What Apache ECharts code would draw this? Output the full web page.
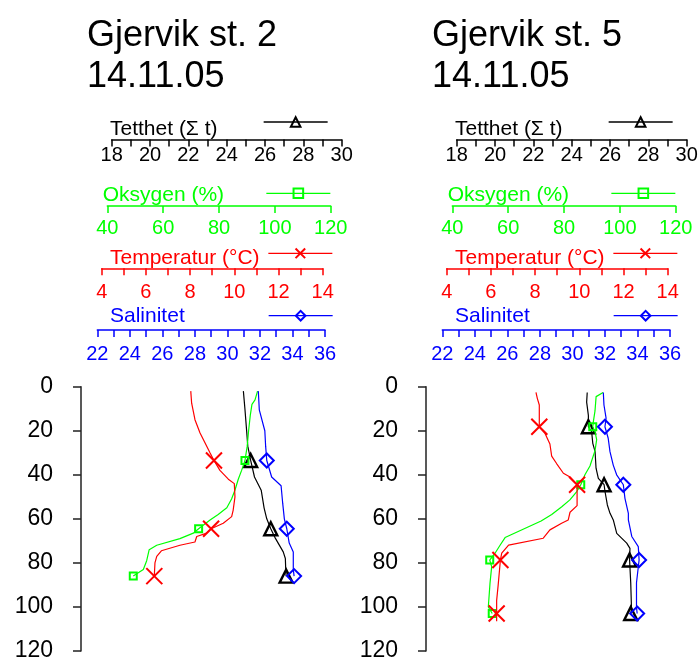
<!DOCTYPE html>
<html>
<head>
<meta charset="utf-8">
<script src="https://cdn.jsdelivr.net/npm/echarts@6/dist/echarts.min.js"></script>
<style>
  html, body { margin: 0; padding: 0; background: #fff; }
  #chart { width: 699px; height: 661px; }
</style>
</head>
<body>
<div id="chart"></div>
<script>
// Hydrographic profiles, Gjervik stations 2 and 5 (14.11.05)
const stationNames = ['Gjervik st. 2', 'Gjervik st. 5'];
const sampleDate = '14.11.05';
const depthTicks = [0, 20, 40, 60, 80, 100, 120];

// Profiles as [depth (m), value]
const st2Tetthet = [[2,24.87],[10,24.95],[20,25.04],[27,25.1],[33.5,25.25],[41,25.45],[47,25.8],[55,25.95],[60,26.09],[64.5,26.3],[69,26.55],[75,26.95],[78,27.06],[83,27.08],[86,27.1]];
const st2Oksygen = [[2,93.8],[6,92.9],[8,91.8],[13,91.2],[20,90.6],[27,90.1],[33.5,89.3],[38,88.1],[42,86.9],[47,85.7],[51,84.5],[55,82.8],[58,79.7],[60.5,76.8],[64.5,72.7],[66.5,70.8],[69,66],[72,57.7],[74,55],[79,54.1],[83,52.9],[86,49.3]];
const st2Temperatur = [[2,8.03],[7.5,8.07],[15,8.22],[21,8.45],[25,8.65],[30,8.9],[33.5,9.08],[38,9.35],[42,9.73],[44,10.0],[50,10.03],[56,9.95],[59,9.88],[62,9.5],[64.5,8.95],[66.5,8.75],[68,8.3],[70.5,8.22],[72,7.54],[74.5,6.7],[77,6.49],[80,6.41],[86,6.38]];
const st2Salinitet = [[2,31.9],[10.5,31.96],[20,32.3],[27,32.35],[33.5,32.42],[41,32.72],[45,33.3],[53,33.4],[60,33.5],[64.5,33.65],[71,33.8],[75,34.05],[83,34.05],[86,34.1]];
const st2SampleDepths = [33.5, 64.5, 86];

const st5Tetthet = [[2.6,24.81],[7,24.78],[13,24.87],[18.2,24.87],[20.4,25.04],[25.7,25.1],[29.5,25.22],[37,25.27],[41.6,25.39],[44.5,25.69],[47.7,25.74],[53.7,25.86],[57.5,26.0],[60.5,26.17],[66.6,26.35],[71,26.87],[73.4,27.04],[78.7,27.02],[89,27.08],[101,27.12],[103,27.08]];
const st5Oksygen = [[2.6,94],[4.5,91.5],[11,91.1],[16,90.5],[18.2,90.3],[20.4,91.1],[24,91.7],[29,91.1],[36,89.3],[40,87.5],[44.5,86],[47.7,84.5],[51.4,82.1],[54.5,79.2],[58,75.6],[61,71.8],[68.5,58.9],[72,57.1],[75.6,55.3],[78.7,53.4],[81.7,54.1],[89.3,53.5],[100,52.9],[103,54.3]];
const st5Temperatur = [[2.6,8.04],[5.3,8.1],[8.3,8.19],[14,8.19],[18.2,8.19],[21.2,8.45],[26,8.67],[31.5,8.75],[35,8.98],[39.3,9.28],[41,9.58],[44.5,9.9],[49,9.9],[54,9.9],[57,9.58],[60.5,9.5],[62,9.2],[65,8.67],[68.8,8.37],[71.9,6.8],[75.6,6.49],[78.7,6.43],[90,6.33],[97,6.26],[103,6.26],[106.5,6.26]];
const st5Salinitet = [[2.6,31.9],[8.3,31.94],[14.3,32.07],[18.2,32.0],[23.4,32.2],[29.5,32.31],[35.6,32.51],[40,32.72],[44.5,33.13],[50.7,33.23],[57.5,33.44],[60.5,33.44],[68,33.65],[72.6,34.05],[78.7,34.1],[89,33.94],[100,33.94],[103,33.98]];
const st5SampleDepths = [18.2, 44.5, 78.7, 103];

// Parameter scales
const paramKeys = ['Tetthet', 'Oksygen', 'Temperatur', 'Salinitet'];
const paramTitles = ['Tetthet (Σ t)', 'Oksygen (%)', 'Temperatur (°C)', 'Salinitet'];
const paramMin = [18, 40, 4, 22];
const paramMax = [30, 120, 14, 36];
const paramStep = [1, 20, 1, 1];
const paramLabelEvery = [2, 20, 2, 2];

const stations = [
  { profiles: [st2Tetthet, st2Oksygen, st2Temperatur, st2Salinitet], samples: st2SampleDepths },
  { profiles: [st5Tetthet, st5Oksygen, st5Temperatur, st5Salinitet], samples: st5SampleDepths }
];

// ---- layout and styling ----
const FONT = '"Liberation Sans", Arial, sans-serif';
const panelShift = [0, 345];
const plotTop = 386.7, plotHeight = 264.3;
const yAxisX = 81;
const style = [
  { color: '#000000', left: 111.7, width: 230,   axisY: 139.5, margin: 6,  nameX: 110,   nameTop: 119, legX: 263,   legY: 122,
    symbol: 'triangle', size: 13, bw: 2.4 },
  { color: '#00ff00', left: 107.3, width: 223.4, axisY: 206,   margin: 12, nameX: 102.7, nameTop: 185, legX: 265.7, legY: 193.3,
    symbol: 'rect', size: 7, bw: 2 },
  { color: '#ff0000', left: 101.7, width: 221,   axisY: 268.3, margin: 14, nameX: 110,   nameTop: 248, legX: 267.7, legY: 253.3,
    symbol: 'path://M0,0L10,10M10,0L0,10', size: 16, bw: 2 },
  { color: '#0000ff', left: 97.3,  width: 227.7, axisY: 330,   margin: 14, nameX: 110,   nameTop: 306, legX: 268,   legY: 315.7,
    symbol: 'diamond', size: [14, 14], bw: 2 }
];

const grids = [], xAxes = [], yAxes = [], series = [], titles = [], legends = [];

stations.forEach((st, k) => {
  const dx = panelShift[k];
  titles.push({
    text: stationNames[k] + '\n' + sampleDate,
    left: 87 + dx, top: 16, padding: 0,
    textStyle: { fontFamily: FONT, fontSize: 36, fontWeight: 'normal', color: '#000', lineHeight: 41 }
  });
  paramKeys.forEach((key, p) => {
    const s = style[p];
    const idx = grids.length;
    grids.push({ left: s.left + dx, top: plotTop, width: s.width, height: plotHeight,
                 containLabel: false, outerBoundsMode: 'none' });
    xAxes.push({
      gridIndex: idx, type: 'value', position: 'top', offset: plotTop - s.axisY,
      min: paramMin[p], max: paramMax[p], interval: paramStep[p],
      axisLine: { show: true, onZero: false, lineStyle: { color: s.color, width: 1.5 } },
      axisTick: { show: true, inside: true, length: 7, lineStyle: { color: s.color, width: 1.5 } },
      axisLabel: {
        show: true, inside: true, margin: s.margin, color: s.color, fontSize: 20, fontFamily: FONT,
        showMinLabel: true, showMaxLabel: true,
        formatter: v => ((v - paramMin[p]) % paramLabelEvery[p] === 0 ? String(v) : '')
      },
      splitLine: { show: false }
    });
    const showY = p === 3;
    yAxes.push({
      gridIndex: idx, type: 'value', min: 0, max: 120, interval: 20, inverse: true,
      show: showY, position: 'left', offset: s.left - yAxisX,
      axisLine: { show: true, lineStyle: { color: '#222', width: 1.5 } },
      axisTick: { show: true, length: 8, lineStyle: { color: '#222', width: 1.5 } },
      axisLabel: { color: '#000', fontSize: 23, fontFamily: FONT, margin: 28,
                   formatter: v => (depthTicks.includes(v) ? String(v) : '') },
      splitLine: { show: false }
    });
    series.push({
      type: 'line', name: key, xAxisIndex: idx, yAxisIndex: idx,
      symbol: s.symbol, symbolSize: s.size,
      data: st.profiles[p].map(([d, v]) => ({
        value: [v, d],
        symbol: st.samples.includes(d) ? s.symbol : 'none'
      })),
      lineStyle: { color: s.color, width: 1.2 },
      itemStyle: { color: 'transparent', borderColor: s.color, borderWidth: s.bw },
      silent: true, animation: false, z: 3 + p
    });
    titles.push({
      text: paramTitles[p], left: s.nameX + dx, top: s.nameTop, padding: 0,
      textStyle: { fontFamily: FONT, fontSize: 21, fontWeight: 'normal', color: s.color }
    });
    legends.push({
      data: [key], left: s.legX + dx, top: s.legY - 6, padding: 0,
      itemWidth: 64, itemHeight: 12, itemGap: 0, selectedMode: false,
      formatter: () => '',
      lineStyle: { width: 1.3 },
      itemStyle: { borderWidth: 2 },
      textStyle: { fontSize: 1 }
    });
  });
});

const chart = echarts.init(document.getElementById('chart'), null, { renderer: 'canvas' });
chart.setOption({
  backgroundColor: '#ffffff',
  animation: false,
  textStyle: { fontFamily: FONT },
  title: titles,
  legend: legends,
  grid: grids,
  xAxis: xAxes,
  yAxis: yAxes,
  series: series
});
</script>
</body>
</html>
